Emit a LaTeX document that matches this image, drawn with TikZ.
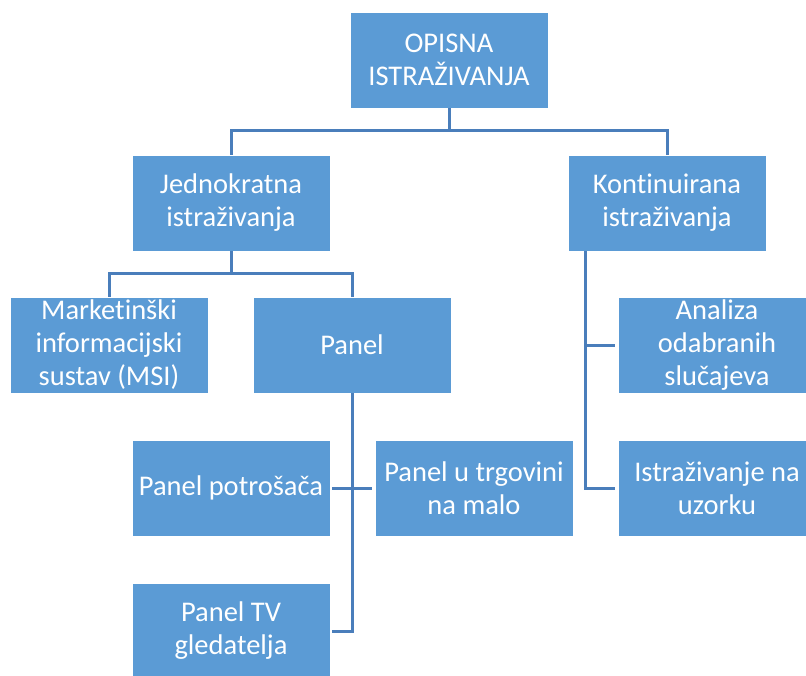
\documentclass[tikz,border=0pt]{standalone}
\usepackage{fontspec}
\setmainfont{Carlito}[Ligatures=NoCommon]
\usetikzlibrary{calc}
\definecolor{boxfill}{HTML}{5B9BD5}
\definecolor{linec}{HTML}{4A7EBB}
\tikzset{
  box/.style={fill=boxfill, draw=white, line width=0.8pt, minimum width=198pt, minimum height=96pt,
    inner sep=0pt, text=white, align=center, font=\fontsize{28.5}{33}\selectfont},
  conn/.style={draw=linec, line width=3pt},
}

\begin{document}
\begin{tikzpicture}[x=1pt,y=-1pt]
  \useasboundingbox (0,0) rectangle (806,675);
  \clip (0,0) rectangle (806,675);
  % boxes
  \node[box] (opisna)    at (449,60)  {OPISNA\\ISTRAŽIVANJA};
  \node[box] (jedno)     at (231,203) {Jednokratna\\istraživanja};
  \node[box] (kont)      at (667,203) {Kontinuirana\\istraživanja};
  \node[box] (msi)       at (109,345) {Marketinški\\informacijski\\sustav (MSI)};
  \node[box] (panel)     at (352,345) {Panel};
  \node[box] (analiza)   at (717,345) {Analiza\\odabranih\\slučajeva};
  \node[box] (uzorak)    at (717,488) {Istraživanje na\\uzorku};
  \node[box] (potrosaca) at (231,488) {Panel potrošača};
  \node[box] (trgovina)  at (474,488) {Panel u trgovini\\na malo};
  \node[box] (tv)        at (231,631) {Panel TV\\gledatelja};
  % connectors
  \draw[conn] (opisna.south) -- ++(0,22);
  \draw[conn] (jedno.north) |- ($(opisna.south)+(0,22)$) -| (kont.north);
  \draw[conn] (jedno.south) -- ++(0,22);
  \draw[conn] (msi.north) |- ($(jedno.south)+(0,22)$) -| (panel.north);
  \coordinate (kstem) at ($(kont.south west)+(18,0)$);
  \draw[conn, shorten >=3pt] (kstem) |- (uzorak.west);
  \draw[conn, shorten >=3pt] (kstem |- analiza.west) -- (analiza.west);
  \draw[conn, shorten >=2pt] (panel.south) |- (tv.east);
  \draw[conn, shorten <=2pt, shorten >=3pt] (potrosaca.east) -- (trgovina.west);
\end{tikzpicture}
\end{document}
